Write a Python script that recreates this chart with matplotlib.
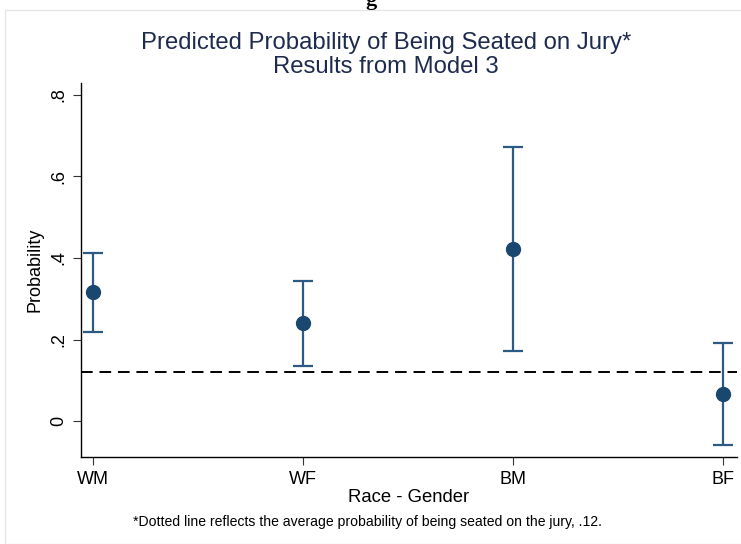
import numpy as np
import matplotlib
matplotlib.use('Agg')
import matplotlib.pyplot as plt
from matplotlib.patches import Rectangle

plt.rcParams['font.family'] = ['Liberation Sans', 'DejaVu Sans']

# data
groups = ['WM', 'WF', 'BM', 'BF']
prob = [0.317, 0.240, 0.422, 0.066]
ci_low = [0.218, 0.135, 0.172, -0.059]
ci_high = [0.412, 0.344, 0.672, 0.191]
avg_prob = 0.12
yticks = [0, 0.2, 0.4, 0.6, 0.8]
ytick_labels = ['0', '.2', '.4', '.6', '.8']

navy = '#1a476f'
title_col = '#1e2b4f'

fig = plt.figure(figsize=(7.41, 5.44), dpi=100)
# faint outer frame of the graph region
fig.patches.append(Rectangle((5 / 741, 0), 1, 534 / 544, transform=fig.transFigure,
                             fill=False, edgecolor='#e6e6e6', linewidth=1))
# fragment of the heading above, cut off by the crop
fig.text(0.5, 1.0, 'g', ha='center', va='center', fontsize=16, fontweight='bold',
         family='Liberation Serif')

ax = fig.add_axes([81 / 741, 87 / 544, 656 / 741, 374 / 544])

x = np.arange(1, len(groups) + 1)
prob = np.array(prob)
yerr = [prob - np.array(ci_low), np.array(ci_high) - prob]
ax.errorbar(x, prob, yerr=yerr, fmt='none', ecolor='#2c5a85', elinewidth=1.6,
            capsize=7, capthick=1.6, zorder=3)
ax.plot(x, prob, 'o', color=navy, markersize=10, zorder=4)
ax.axhline(avg_prob, color='black', linestyle=(0, (6, 3.5)), linewidth=1.4, zorder=2)

ax.set_xlim(0.943, 4.067)
ax.set_ylim(-0.088, 0.829)
ax.set_xticks(x)
ax.set_xticklabels(groups, fontsize=13)
ax.set_yticks(yticks)
ax.set_yticklabels(ytick_labels, fontsize=13, rotation=90, va='center')
ax.tick_params(length=6, width=0.8, color='#333333', pad=4)
for s in ['top', 'right']:
    ax.spines[s].set_visible(False)
for s in ['left', 'bottom']:
    ax.spines[s].set_linewidth(1.0)

ax.set_ylabel('Probability', fontsize=13, labelpad=5)
ax.set_xlabel('Race - Gender', fontsize=13.3, labelpad=1)

fig.text(386 / 741, 1 - 43 / 544, 'Predicted Probability of Being Seated on Jury*',
         ha='center', va='center', fontsize=17.2, color=title_col)
fig.text(386 / 741, 1 - 67 / 544, 'Results from Model 3',
         ha='center', va='center', fontsize=17.2, color=title_col)
fig.text(133 / 741, 1 - 522 / 544,
         '*Dotted line reflects the average probability of being seated on the jury, .12.',
         ha='left', va='center', fontsize=10.1)

fig.savefig('out.png', dpi=100)
